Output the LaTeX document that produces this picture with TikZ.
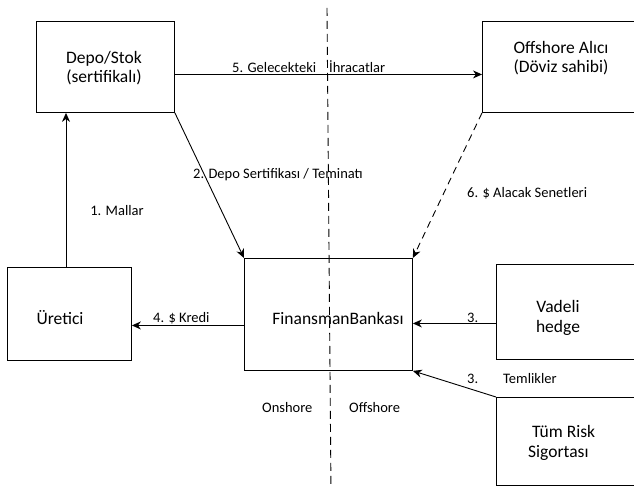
\documentclass[tikz,border=0pt]{standalone}
\usepackage{fontspec}
\setmainfont{Carlito}
\usetikzlibrary{arrows.meta,calc}
\begin{document}
\begin{tikzpicture}[x=1pt,y=-1pt,
  box/.style={draw, line width=0.9pt, anchor=north west, inner sep=0pt},
  boxtext/.style={font=\fontsize{17.5}{19.5}\selectfont, align=center, inner sep=0pt},
  lbl/.style={font=\fontsize{14.5}{16}\selectfont, inner sep=0pt},
  flow/.style={line width=0.9pt, -{Stealth[length=9pt,width=8pt]}},
  divider/.style={line width=0.9pt, dash pattern=on 8pt off 5pt},
]
\useasboundingbox (0,0) rectangle (634,486);
\clip (0,0) rectangle (634,486);

% parties
\node[box, minimum width=138pt, minimum height=91pt] (depo) at (36,21) {};
\node[box, minimum width=170pt, minimum height=91pt] (alici) at (482,21) {};
\node[box, minimum width=124pt, minimum height=93pt] (uretici) at (7,267) {};
\node[box, minimum width=168pt, minimum height=112pt] (banka) at (244,258) {};
\node[box, minimum width=160pt, minimum height=95pt] (hedge) at (496,264) {};
\node[box, minimum width=160pt, minimum height=88pt] (sigorta) at (496,397) {};

% party names
\node[boxtext] (depoT) at (104,68) {Depo/Stok\\(sertifikalı)};
\node[boxtext] (aliciT) at (561,58) {Offshore Alıcı\\(Döviz sahibi)};
\node[boxtext] (ureticiT) at (60,318) {Üretici};
\node[boxtext] (bankaT) at (338,318) {FinansmanBankası};
\node[boxtext] (hedgeT) at (558,318) {Vadeli\\hedge};
\node[boxtext, align=left, anchor=west] (sigortaT) at (528,443) {\hspace{4pt}Tüm Risk\\Sigortası};

% onshore / offshore boundary
\coordinate (divTop) at (327,8);
\coordinate (divBot) at (331,492);
\draw[divider] (divTop) -- (divBot);

% flows
\draw[flow] ($(uretici.north west)+(59,0)$) -- ($(depo.south west)+(30,0)$);
\draw[flow] ($(depo.east)+(0,7.5)$) -- ($(alici.west)+(0,7.5)$);
\draw[flow] (depo.south east) -- (banka.north west);
\draw[flow, dash pattern=on 7pt off 5pt] (alici.south west) -- (banka.north east);
\draw[flow] ($(banka.west)+(0,11)$) -- ($(uretici.east)+(0,11.5)$);
\draw[flow] ($(hedge.west)+(0,11.5)$) -- ($(banka.east)+(0,9)$);
\draw[flow] (sigorta.north west) -- (banka.south east);

% flow labels
\node[lbl] (l1) at (117,211) {1. Mallar};
\node[lbl, anchor=west] (l2) at (193,175) {2. Depo Sertifikası / Teminatı};
\node[lbl, anchor=west] (l5) at (232,67) {5. Gelecekteki\hspace{13pt}İhracatlar};
\node[lbl, anchor=west] (l6) at (467,193) {6. \$ Alacak Senetleri};
\node[lbl, anchor=west] (l4) at (153,318) {4. \$ Kredi};
\node[lbl, anchor=west] (l3a) at (467,318) {3.};
\node[lbl, anchor=west] (l3b) at (467,379) {3.};
\node[lbl, anchor=west] (l3c) at (503,379) {Temlikler};
\node[lbl, anchor=west] (on) at (262,408) {Onshore};
\node[lbl, anchor=west] (off) at (349,408) {Offshore};
\end{tikzpicture}
\end{document}
